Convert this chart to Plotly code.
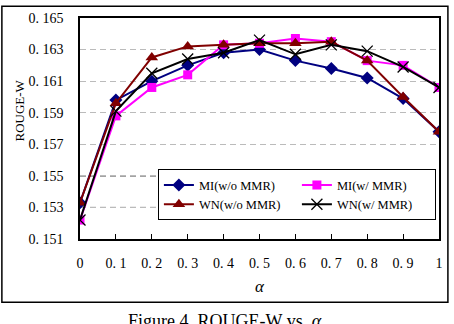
import plotly.graph_objects as go

alpha = [0, 0.1, 0.2, 0.3, 0.4, 0.5, 0.6, 0.7, 0.8, 0.9, 1.0]
x_ticktext = ["0", "0. 1", "0. 2", "0. 3", "0. 4", "0. 5", "0. 6", "0. 7", "0. 8", "0. 9", "1"]
y_tickvals = [0.151, 0.153, 0.155, 0.157, 0.159, 0.161, 0.163, 0.165]
y_ticktext = ["0. 151", "0. 153", "0. 155", "0. 157", "0. 159", "0. 161", "0. 163", "0. 165"]

mi_wo = [0.1533, 0.1598, 0.1610, 0.1620, 0.1628, 0.1630, 0.1623, 0.1618, 0.1612, 0.1599, 0.1578]
mi_w = [0.1522, 0.1588, 0.1606, 0.1614, 0.1633, 0.1634, 0.1637, 0.1635, 0.1623, 0.1620, 0.1606]
wn_wo = [0.1533, 0.1596, 0.1625, 0.1632, 0.1633, 0.1634, 0.1634, 0.1635, 0.1623, 0.1600, 0.1578]
wn_w = [0.1522, 0.1591, 0.1615, 0.1624, 0.1628, 0.1636, 0.1627, 0.1633, 0.1629, 0.1619, 0.1606]

dark_grid = [0.153, 0.155]

serif = "Liberation Serif, Times New Roman, serif"

fig = go.Figure()
fig.add_trace(go.Scatter(x=alpha, y=mi_wo, name="MI(w/o MMR)", mode="lines+markers",
                         line=dict(color="#000080", width=2),
                         marker=dict(symbol="diamond", size=10, color="#000080")))
fig.add_trace(go.Scatter(x=alpha, y=mi_w, name="MI(w/ MMR)", mode="lines+markers",
                         line=dict(color="#FF00FF", width=2),
                         marker=dict(symbol="square", size=9, color="#FF00FF")))
fig.add_trace(go.Scatter(x=alpha, y=wn_wo, name="WN(w/o MMR)", mode="lines+markers",
                         line=dict(color="#800000", width=2),
                         marker=dict(symbol="triangle-up", size=11, color="#800000")))
fig.add_trace(go.Scatter(x=alpha, y=wn_w, name="WN(w/ MMR)", mode="lines+markers",
                         line=dict(color="#000000", width=2),
                         marker=dict(symbol="x-thin", size=11, color="#000000",
                                     line=dict(color="#000000", width=1.3))))

shapes = []
for v in dark_grid:
    shapes.append(dict(type="line", xref="paper", x0=0, x1=1, yref="y", y0=v, y1=v,
                       line=dict(color="black", width=1, dash="6px,4px"), layer="below"))
# outer frame
shapes.append(dict(type="rect", xref="paper", yref="paper", x0=-0.2176, x1=1.0248,
                   y0=-0.2857, y1=1.0536, line=dict(color="black", width=1.5)))

fig.update_layout(
    width=454, height=324,
    margin=dict(l=80, r=11, t=15, b=85),
    paper_bgcolor="white", plot_bgcolor="white",
    font=dict(family=serif, size=14, color="black"),
    showlegend=True,
    legend=dict(orientation="h", x=0.217, y=0.315, xanchor="left", yanchor="top",
                entrywidth=93, entrywidthmode="pixels",
                bgcolor="white", bordercolor="black", borderwidth=1,
                font=dict(family=serif, size=12.5), tracegroupgap=0, itemwidth=30),
    xaxis=dict(range=[0, 1], tickvals=alpha, ticktext=x_ticktext,
               showgrid=False, zeroline=False, showline=True, linecolor="black",
               linewidth=1.5, mirror=True, ticks="inside", ticklen=5, tickcolor="black",
               tickfont=dict(family=serif, size=14), ticklabelstandoff=10),
    yaxis=dict(range=[0.151, 0.165], tickvals=y_tickvals, ticktext=y_ticktext,
               showgrid=True, gridcolor="#BBBBBB", griddash="6px,4px", gridwidth=1,
               zeroline=False, showline=True, linecolor="black", linewidth=1.5, mirror=True,
               ticks="", tickfont=dict(family=serif, size=14), ticklabelstandoff=12),
    shapes=shapes,
    annotations=[
        dict(text="ROUGE-W", xref="paper", yref="paper", x=-0.168, y=0.58, textangle=-90,
             showarrow=False, font=dict(family=serif, size=13),
             xanchor="center", yanchor="middle"),
        dict(text="<i>α</i>", xref="paper", yref="paper", x=0.5, y=-0.215, showarrow=False,
             font=dict(family=serif, size=17), xanchor="center", yanchor="middle"),
        dict(text="Figure 4. ROUGE-W vs. <i>α</i>", xref="paper", yref="paper", x=0.405,
             y=-0.315, showarrow=False, font=dict(family=serif, size=18),
             xanchor="center", yanchor="top"),
    ],
)

fig.write_html("out.html")
